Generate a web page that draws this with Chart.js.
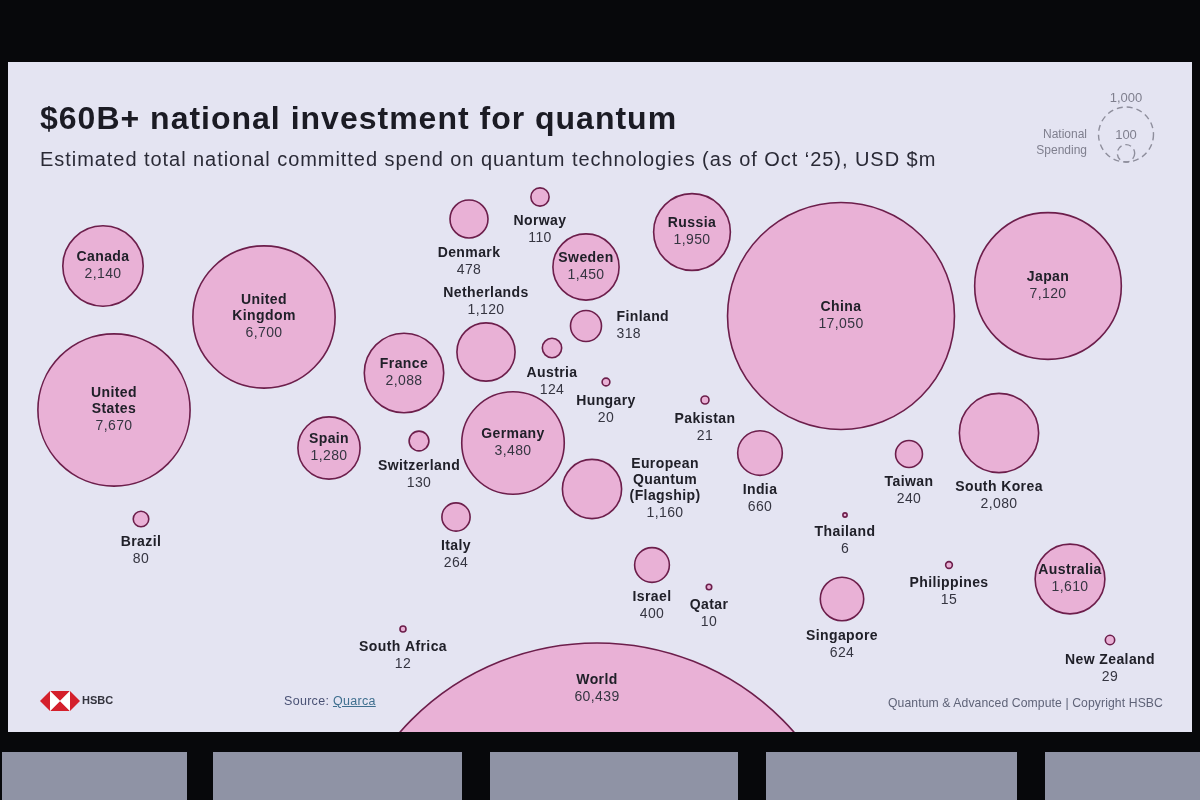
<!DOCTYPE html>
<html>
<head>
<meta charset="utf-8">
<title>$60B+ national investment for quantum</title>
<script src="https://cdn.jsdelivr.net/npm/chart.js@4.4.1/dist/chart.umd.min.js"></script>
<style>
  html, body { margin: 0; padding: 0; }
  body { width: 1200px; height: 800px; background: #07080b; position: relative; overflow: hidden;
         font-family: "Liberation Sans", Arial, sans-serif; }
  .panel { position: absolute; top: 752px; height: 48px; background: #8f93a5; }
  #slide { position: absolute; left: 8px; top: 62px; width: 1184px; height: 670px; background: #e4e4f2; }
  #chart { position: absolute; left: 0; top: 0; }
  .title { position: absolute; left: 32px; top: 38px; font-size: 32px; letter-spacing: 1px; font-weight: bold; color: #1b1b24; white-space: nowrap; }
  .subtitle { position: absolute; left: 32px; top: 86px; font-size: 20px; letter-spacing: 0.95px; color: #2a2a36; white-space: nowrap; }
  .foot { position: absolute; white-space: nowrap; }
</style>
</head>
<body>
<div class="panel" style="left:2px;width:185px"></div>
<div class="panel" style="left:213px;width:249px"></div>
<div class="panel" style="left:490px;width:248px"></div>
<div class="panel" style="left:766px;width:251px"></div>
<div class="panel" style="left:1045px;width:155px"></div>

<div id="slide">
  <canvas id="chart" width="1184" height="670"></canvas>
  <div class="title">$60B+ national investment for quantum</div>
  <div class="subtitle">Estimated total national committed spend on quantum technologies (as of Oct ‘25), USD $m</div>

  <svg style="position:absolute;left:32px;top:628px" width="40" height="22" viewBox="0 0 40 22">
    <polygon points="0,11 10,1 10,21" fill="#d4202c"/>
    <polygon points="40,11 30,1 30,21" fill="#d4202c"/>
    <polygon points="10,1 30,1 20,11" fill="#d4202c"/>
    <polygon points="10,21 30,21 20,11" fill="#d4202c"/>
    <polygon points="10,1 20,11 10,21" fill="#ffffff"/>
    <polygon points="30,1 20,11 30,21" fill="#ffffff"/>
  </svg>
  <div class="foot" style="left:74px;top:632px;font-weight:bold;color:#33333d;font-size:11px">HSBC</div>
  <div class="foot" style="left:276px;top:632px;color:#4a5275;font-size:12.5px;letter-spacing:0.3px">Source: <span style="color:#3f6f8f;text-decoration:underline">Quarca</span></div>
  <div class="foot" style="right:29px;top:634px;color:#5f6378;font-size:12.2px;letter-spacing:0.1px">Quantum &amp; Advanced Compute | Copyright HSBC</div>
</div>

<script>
// national committed spend on quantum, USD $m
const countries = ['Canada', 'United\nKingdom', 'United\nStates', 'Brazil', 'France', 'Spain', 'Switzerland',
  'Germany', 'Netherlands', 'Denmark', 'Norway', 'Sweden', 'Russia', 'Finland', 'Austria', 'Hungary',
  'Pakistan', 'European\nQuantum\n(Flagship)', 'India', 'Italy', 'Israel', 'Qatar', 'South Africa', 'World',
  'China', 'Japan', 'Taiwan', 'South Korea', 'Thailand', 'Philippines', 'Singapore', 'Australia', 'New Zealand'];
const spend = [2140, 6700, 7670, 80, 2088, 1280, 130,
  3480, 1120, 478, 110, 1450, 1950, 318, 124, 20,
  21, 1160, 660, 264, 400, 10, 12, 60439,
  17050, 7120, 240, 2080, 6, 15, 624, 1610, 29];

// where each bubble sits on the slide (layout grid, same units as the page)
const posX = [103, 264, 114, 141, 404, 329, 419,
  513, 486, 469, 540, 586, 692, 586, 552, 606,
  705, 592, 760, 456, 652, 709, 403, 597,
  841, 1048, 909, 999, 845, 949, 842, 1070, 1110];
const posY = [266, 317, 410, 519, 373, 448, 441,
  443, 352, 219, 197, 267, 232, 326, 348, 382,
  400, 489, 453, 517, 565, 587, 629, 905,
  316, 286, 454, 433, 515, 565, 599, 579, 640];
// label placement: in / below / above / right / rightc / top
const labelSide = ['in', 'in', 'in', 'below', 'in', 'in', 'below',
  'in', 'above', 'below', 'below', 'in', 'in', 'right', 'below', 'below',
  'below', 'rightc', 'below', 'below', 'below', 'below', 'below', 'top',
  'in', 'in', 'below', 'below', 'below', 'below', 'below', 'in', 'below'];

const legendValues = [1000, 100];

const K = 0.869;            // px per sqrt($m)
const radiusOf = (v, name) => (name === 'World' ? 1.066 : K) * Math.sqrt(v);
const fmt = v => v.toLocaleString('en-US');

const points = countries.map((c, i) => ({ x: posX[i], y: posY[i], r: radiusOf(spend[i], c) }));

const NAME_FONT = 'bold 14px "Liberation Sans", Arial, sans-serif';
const VALUE_FONT = '14px "Liberation Sans", Arial, sans-serif';

const bubbleLabels = {
  id: 'bubbleLabels',
  afterDatasetsDraw(chart) {
    const ctx = chart.ctx;
    const meta = chart.getDatasetMeta(0);
    ctx.save();
    ctx.textBaseline = 'middle';
    ctx.letterSpacing = '0.4px';
    meta.data.forEach((el, i) => {
      const r = el.options.radius;
      const lines = countries[i].split('\n');
      const value = fmt(spend[i]);
      const lh = 16;
      let cx = el.x, top, align = 'center';
      const blockH = (lines.length - 1) * lh + 17;
      if (labelSide[i] === 'in') top = el.y - blockH / 2;
      else if (labelSide[i] === 'below') top = el.y + r + 15;
      else if (labelSide[i] === 'above') top = el.y - r - 13 - blockH;
      else if (labelSide[i] === 'top') top = el.y - r + 37;
      else {
        top = el.y - blockH / 2;
        ctx.font = NAME_FONT;
        const w = Math.max(...lines.map(l => ctx.measureText(l).width));
        if (labelSide[i] === 'right') { cx = el.x + r + 15; align = 'left'; }
        else { cx = el.x + r + 8 + w / 2; }
      }
      ctx.textAlign = align;
      ctx.fillStyle = '#202029';
      ctx.font = NAME_FONT;
      lines.forEach((l, j) => ctx.fillText(l, cx, top + j * lh));
      ctx.fillStyle = '#353541';
      ctx.font = VALUE_FONT;
      ctx.fillText(value, cx, top + (lines.length - 1) * lh + 17);
    });

    // size legend (nested dashed circles)
    const x = chart.scales.x, y = chart.scales.y;
    const lx = x.getPixelForValue(1126), bottom = y.getPixelForValue(162);
    ctx.setLineDash([6, 4]);
    ctx.strokeStyle = '#8e8e9c';
    ctx.lineWidth = 1.4;
    legendValues.forEach(v => {
      const r = radiusOf(v, '');
      ctx.beginPath();
      ctx.arc(lx, bottom - r, r, 0, Math.PI * 2);
      ctx.stroke();
    });
    ctx.setLineDash([]);
    ctx.letterSpacing = '0px';
    ctx.fillStyle = '#7f7f8e';
    ctx.font = '13px "Liberation Sans", Arial, sans-serif';
    ctx.textAlign = 'center';
    const rBig = radiusOf(legendValues[0], '');
    ctx.fillText(fmt(legendValues[0]), lx, bottom - 2 * rBig - 9);
    ctx.fillText(fmt(legendValues[1]), lx, bottom - rBig + 1);
    ctx.font = '12px "Liberation Sans", Arial, sans-serif';
    ctx.textAlign = 'right';
    ctx.fillText('National', x.getPixelForValue(1087), y.getPixelForValue(135));
    ctx.fillText('Spending', x.getPixelForValue(1087), y.getPixelForValue(151));
    ctx.restore();
  }
};

new Chart(document.getElementById('chart'), {
  type: 'bubble',
  data: {
    labels: countries,
    datasets: [{
      label: 'National spending',
      data: points,
      backgroundColor: '#e9b1d6',
      borderColor: '#6c1e4b',
      borderWidth: 1.6,
      hoverRadius: 0
    }]
  },
  options: {
    responsive: false,
    animation: false,
    layout: { padding: 0, autoPadding: false },
    scales: {
      x: { type: 'linear', min: 8, max: 1192, display: false },
      y: { type: 'linear', min: 62, max: 732, reverse: true, display: false }
    },
    plugins: {
      legend: { display: false },
      tooltip: { enabled: false }
    }
  },
  plugins: [bubbleLabels]
});
</script>
</body>
</html>
